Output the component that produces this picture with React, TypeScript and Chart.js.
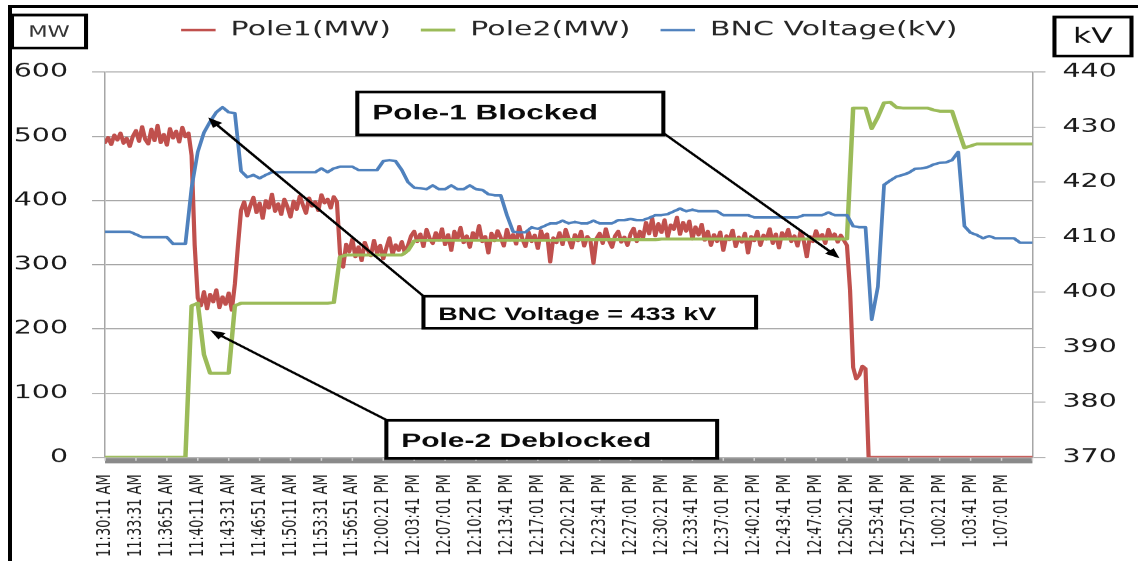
import React, { useEffect, useRef } from 'react';
import { Chart, registerables } from 'chart.js';

Chart.register(...registerables);

// ---------- data ----------
const tickTimes = [
  '11:30:11 AM', '11:33:31 AM', '11:36:51 AM', '11:40:11 AM', '11:43:31 AM', '11:46:51 AM',
  '11:50:11 AM', '11:53:31 AM', '11:56:51 AM', '12:00:21 PM', '12:03:41 PM', '12:07:01 PM',
  '12:10:21 PM', '12:13:41 PM', '12:17:01 PM', '12:20:21 PM', '12:23:41 PM', '12:27:01 PM',
  '12:30:21 PM', '12:33:41 PM', '12:37:01 PM', '12:40:21 PM', '12:43:41 PM', '12:47:01 PM',
  '12:50:21 PM', '12:53:41 PM', '12:57:01 PM', '1:00:21 PM', '1:03:41 PM', '1:07:01 PM',
];
const X_MAX = 30; // axis runs one interval past the last label
const POLE1_PER_TICK = 10; // Pole1 samples per label interval
const SLOW_PER_TICK = 5; // Pole2 / BNC samples per label interval

const pole1MW = [
  490, 498, 487, 502, 494, 505, 489, 497, 484, 500,
  509, 492, 515, 495, 488, 511, 493, 517, 490, 503,
  486, 512, 497, 508, 491, 514, 499, 505, 470, 330,
  248, 236, 258, 231, 254, 242, 261, 233, 250, 238,
  256, 229, 270, 330, 385, 398, 376, 392, 405, 381,
  396, 372, 400, 388, 410, 383, 395, 378, 402, 390,
  374, 399, 386, 407, 393, 380, 404, 391, 398, 384,
  409, 396, 402, 388, 406, 398, 318, 296, 332, 320,
  340, 312, 328, 306, 335, 322, 314, 338, 318, 330,
  309, 326, 342, 316, 331, 322, 336, 318, 330, 345,
  352, 336, 348, 328, 355, 341, 333, 350, 338, 356,
  331, 347, 322, 352, 340, 358, 334, 345, 327, 350,
  339, 361, 336, 344, 318, 349, 337, 353, 342, 329,
  355, 338, 347, 332, 360, 340, 328, 351, 336, 346,
  325, 353, 339, 348, 304, 342, 334, 350, 331, 355,
  340, 326, 347, 337, 352, 329, 344, 338, 302, 341,
  349, 333, 356, 338, 327, 345, 352, 335, 343, 330,
  348, 357, 336, 352, 341, 366, 348, 372, 345, 364,
  350, 370, 343, 362, 355, 374, 347, 366, 352, 368,
  340, 359, 346, 363, 338, 352, 330, 347, 336, 351,
  322, 345, 339, 354, 328, 343, 335, 349, 318, 344,
  337, 352, 330, 346, 340, 356, 333, 348, 326, 350,
  341, 355, 336, 345, 329, 352, 338, 312, 344, 336,
  353, 340, 347, 333, 355, 341, 348, 335, 346, 338,
  330, 260, 140, 122, 128, 142, 138, 0, 0, 0,
  0, 0, 0, 0, 0, 0, 0, 0, 0, 0,
  0, 0, 0, 0, 0, 0, 0, 0, 0, 0,
  0, 0, 0, 0, 0, 0, 0, 0, 0, 0,
  0, 0, 0, 0, 0, 0, 0, 0, 0, 0,
  0, 0, 0, 0, 0, 0, 0, 0, 0, 0,
  0,
];

const pole2MW = [
  0, 0, 0, 0, 0, 0, 0, 0, 0, 0,
  0, 0, 0, 0, 236, 240, 160, 131, 131, 131,
  131, 236, 240, 240, 240, 240, 240, 240, 240, 240,
  240, 240, 240, 240, 240, 240, 240, 241, 312, 315,
  315, 315, 315, 315, 315, 315, 315, 315, 315, 322,
  337, 338, 338, 338, 338, 338, 338, 338, 338, 338,
  338, 338, 338, 338, 338, 338, 338, 338, 338, 338,
  338, 338, 338, 338, 339, 339, 339, 339, 339, 339,
  339, 339, 339, 339, 339, 339, 339, 339, 339, 339,
  340, 340, 340, 340, 340, 340, 340, 340, 340, 340,
  340, 340, 340, 340, 340, 340, 340, 340, 340, 340,
  340, 340, 340, 340, 340, 340, 340, 340, 340, 340,
  340, 544, 544, 544, 512, 530, 552, 553, 545, 544,
  544, 544, 544, 544, 541, 539, 539, 539, 510, 482,
  485, 488, 488, 488, 488, 488, 488, 488, 488, 488,
  488,
];

const bncKV = [
  411, 411, 411, 411, 411, 410.5, 410, 410, 410, 410,
  410, 408.8, 408.8, 408.8, 419, 425.5, 429, 431, 432.7, 433.6,
  432.7, 432.5, 422, 420.9, 421.3, 420.7, 421.3, 421.8, 421.8, 421.8,
  421.8, 421.8, 421.8, 421.8, 421.8, 422.5, 421.8, 422.5, 422.8, 422.8,
  422.8, 422.2, 422.2, 422.2, 422.2, 423.8, 424, 423.8, 422.2, 420,
  419, 418.9, 418.7, 419.4, 418.7, 418.7, 419.4, 418.7, 418.7, 419.4,
  418.7, 418.6, 417.8, 417.6, 417.6, 414, 411, 410.9, 410.9, 411.8,
  411.5, 412, 412.5, 412.5, 413, 412.5, 412.8, 412.5, 412.5, 413,
  412.5, 412.5, 412.5, 413.1, 413.1, 413.3, 413.1, 413.1, 413.5, 414,
  414, 414.2, 414.7, 415.2, 414.7, 415, 414.7, 414.7, 414.7, 414.7,
  414, 414, 414, 414, 414, 413.6, 413.6, 413.6, 413.6, 413.6,
  413.6, 413.6, 413.6, 414, 414, 414, 414, 414.5, 414, 414,
  414, 412, 411.8, 411.8, 395, 401, 419.5, 420.3, 421, 421.3,
  421.7, 422.4, 422.5, 422.7, 423.2, 423.5, 423.6, 424, 425.5, 412,
  410.8, 410.4, 409.8, 410.2, 409.8, 409.8, 409.8, 409.8, 409, 409,
  409,
];

const mwTicks = { min: 0, max: 600, step: 100 };
const kvTicks = { min: 370, max: 440, step: 10 };
const seriesNames = ['Pole1(MW)', 'Pole2(MW)', 'BNC Voltage(kV)'];
const unitLabels = ['MW', 'kV'];

// annotations, in data coordinates (label-interval position, MW)
const annotationBoxes = [
  { text: 'Pole-1 Blocked', x0: 8.16, x1: 18.06, top: 569, bottom: 502, tx: 8.64, ty: 526.7, size: 21 },
  { text: 'BNC Voltage = 433 kV', x0: 10.3, x1: 21.06, top: 251, bottom: 201, tx: 10.78, ty: 213.5, size: 18 },
  { text: 'Pole-2 Deblocked', x0: 9.1, x1: 19.8, top: 57.7, bottom: -1.6, tx: 9.58, ty: 15.6, size: 20 },
];
const annotationArrows = [
  { from: [18.06, 505], to: [23.76, 310] },
  { from: [10.3, 251], to: [3.34, 529] },
  { from: [9.12, 57.7], to: [3.4, 198] },
];

// ---------- layout / style ----------
const PAGE_W = 1138;
const PAGE_H = 561;
const CANVAS_W = 759;
const K = PAGE_W / CANVAS_W; // horizontal stretch of the picture
const PLOT_LEFT = 105;
const PLOT_RIGHT = 1032;
const PLOT_BOTTOM = 457;
const TICK_LEN = 13 / K;

const RED = '#C0504D';
const GREEN = '#9BBB59';
const BLUE = '#4F81BD';
const GRID = '#a6a6a6';
const FONT = "'DejaVu Sans', Verdana, sans-serif";
const BOLD_FONT = "'Liberation Sans', Arial, sans-serif";

const toPoints = (values: number[], perTick: number) => values.map((v, i) => ({ x: i / perTick, y: v }));

const unitBoxes = [
  { text: unitLabels[0], left: 12, top: 15, right: 86, bottom: 48, size: 15, color: '#333' },
  { text: unitLabels[1], left: 1054, top: 17, right: 1131, bottom: 56, size: 21, color: '#111' },
];

function drawArrow(ctx: CanvasRenderingContext2D, x1: number, y1: number, x2: number, y2: number) {
  const ang = Math.atan2(y2 - y1, x2 - x1);
  const L = 10;
  const W = 4;
  const bx = x2 - Math.cos(ang) * L;
  const by = y2 - Math.sin(ang) * L;
  ctx.beginPath();
  ctx.moveTo(x1, y1);
  ctx.lineTo(bx + Math.cos(ang) * 2, by + Math.sin(ang) * 2);
  ctx.stroke();
  ctx.beginPath();
  ctx.moveTo(x2, y2);
  ctx.lineTo(bx + Math.sin(ang) * W, by - Math.cos(ang) * W);
  ctx.lineTo(bx - Math.sin(ang) * W, by + Math.cos(ang) * W);
  ctx.closePath();
  ctx.fill();
}

const decorPlugin = {
  id: 'decor',
  beforeDatasetsDraw(chart: any) {
    const { ctx, chartArea: a, scales } = chart;
    const x = scales.x;
    ctx.save();
    ctx.fillStyle = '#8a8a8a';
    ctx.fillRect(a.left, a.bottom + 1, a.right - a.left, 5);
    ctx.fillStyle = '#d4d4d4';
    for (let t = 0; t <= X_MAX; t++) {
      const px = x.getPixelForValue(t);
      ctx.fillRect(px - 0.5, a.bottom + 1, 1, 2.5);
    }
    ctx.restore();
  },
  afterDatasetsDraw(chart: any) {
    const { ctx, scales } = chart;
    const x = scales.x;
    const y = scales.y;
    ctx.save();
    ctx.strokeStyle = '#000';
    ctx.fillStyle = '#000';
    ctx.lineWidth = 2;
    for (const ar of annotationArrows) {
      drawArrow(
        ctx,
        x.getPixelForValue(ar.from[0]), y.getPixelForValue(ar.from[1]),
        x.getPixelForValue(ar.to[0]), y.getPixelForValue(ar.to[1])
      );
    }
    for (const b of annotationBoxes) {
      const l = x.getPixelForValue(b.x0);
      const r = x.getPixelForValue(b.x1);
      const t = y.getPixelForValue(b.top);
      const bt = y.getPixelForValue(b.bottom);
      ctx.fillStyle = '#fff';
      ctx.fillRect(l, t, r - l, bt - t);
      ctx.lineWidth = 2.7;
      ctx.strokeStyle = '#000';
      ctx.strokeRect(l, t, r - l, bt - t);
      ctx.fillStyle = '#0a0a0a';
      ctx.font = `bold ${b.size}px ${BOLD_FONT}`;
      ctx.textAlign = 'left';
      ctx.textBaseline = 'alphabetic';
      ctx.fillText(b.text, x.getPixelForValue(b.tx), y.getPixelForValue(b.ty));
    }
    for (const u of unitBoxes) {
      const l = u.left / K;
      const w = (u.right - u.left) / K;
      ctx.fillStyle = '#fff';
      ctx.fillRect(l, u.top, w, u.bottom - u.top);
      ctx.lineWidth = 2.7;
      ctx.strokeStyle = '#000';
      ctx.strokeRect(l, u.top, w, u.bottom - u.top);
      ctx.fillStyle = u.color;
      ctx.font = `${u.size}px ${FONT}`;
      ctx.textAlign = 'center';
      ctx.textBaseline = 'middle';
      ctx.fillText(u.text, l + w / 2, (u.top + u.bottom) / 2 + 1);
    }
    ctx.restore();
  },
};

export default function App() {
  const canvasRef = useRef<HTMLCanvasElement>(null);

  useEffect(() => {
    const chart = new Chart(canvasRef.current as HTMLCanvasElement, {
      type: 'line',
      data: {
        datasets: [
          { label: seriesNames[0], data: toPoints(pole1MW, POLE1_PER_TICK), yAxisID: 'y', borderColor: RED, backgroundColor: RED, borderWidth: 2.8, order: 3, pointStyle: 'line' },
          { label: seriesNames[1], data: toPoints(pole2MW, SLOW_PER_TICK), yAxisID: 'y', borderColor: GREEN, backgroundColor: GREEN, borderWidth: 3, order: 2, pointStyle: 'line' },
          { label: seriesNames[2], data: toPoints(bncKV, SLOW_PER_TICK), yAxisID: 'y1', borderColor: BLUE, backgroundColor: BLUE, borderWidth: 2.5, order: 1, pointStyle: 'line' },
        ],
      },
      options: {
        animation: false,
        responsive: true,
        maintainAspectRatio: false,
        devicePixelRatio: 1.5,
        events: [],
        parsing: true,
        layout: { padding: 0 },
        elements: {
          point: { radius: 0, hoverRadius: 0 },
          line: { tension: 0, borderJoinStyle: 'round', borderCapStyle: 'round' },
        },
        plugins: {
          legend: {
            display: true,
            position: 'top',
            align: 'center',
            labels: {
              usePointStyle: true,
              pointStyle: 'line',
              pointStyleWidth: 23,
              padding: 20,
              color: '#262626',
              font: { family: FONT, size: 20 },
              sort: (a: any, b: any) => a.datasetIndex - b.datasetIndex,
            },
          },
          title: {
            display: true,
            text: '',
            weight: 500,
            padding: { top: 5, bottom: 5 },
            font: { size: 10, lineHeight: 1.2 },
          },
          tooltip: { enabled: false },
        },
        scales: {
          x: {
            type: 'linear',
            min: 0,
            max: X_MAX,
            grid: { display: false },
            border: { display: false },
            ticks: {
              stepSize: 1,
              autoSkip: false,
              minRotation: 90,
              maxRotation: 90,
              padding: 9,
              color: '#1a1a1a',
              font: { family: FONT, size: 13 },
              callback: (v: any) => tickTimes[Math.round(Number(v))] ?? '',
            },
            afterFit: (s: any) => { s.height = PAGE_H - PLOT_BOTTOM; },
          },
          y: {
            position: 'left',
            min: mwTicks.min,
            max: mwTicks.max,
            ticks: { stepSize: mwTicks.step, padding: 16, color: '#1a1a1a', font: { family: FONT, size: 19 } },
            grid: { color: GRID, lineWidth: 1, tickLength: TICK_LEN, drawTicks: true },
            border: { display: true, color: GRID, width: 1 },
            afterFit: (s: any) => { s.width = PLOT_LEFT / K; },
          },
          y1: {
            position: 'right',
            min: kvTicks.min,
            max: kvTicks.max,
            ticks: { stepSize: kvTicks.step, padding: 11.3, color: '#1a1a1a', font: { family: FONT, size: 19 } },
            grid: { drawOnChartArea: false, color: GRID, lineWidth: 1, tickLength: TICK_LEN, drawTicks: true },
            border: { display: true, color: GRID, width: 1 },
            afterFit: (s: any) => { s.width = CANVAS_W - PLOT_RIGHT / K; },
          },
        },
      },
      plugins: [decorPlugin],
    } as any);
    return () => chart.destroy();
  }, []);

  return (
    <div style={{ position: 'fixed', left: 0, top: 0, width: PAGE_W, height: PAGE_H, background: '#fff', overflow: 'hidden' }}>
      <div style={{ position: 'absolute', left: 0, top: 0, width: CANVAS_W, height: PAGE_H, transform: `scaleX(${K})`, transformOrigin: '0 0' }}>
        <canvas ref={canvasRef} />
      </div>
      <div style={{ position: 'absolute', left: 8, top: 5, width: PAGE_W - 8, height: 3, background: '#000' }} />
      <div style={{ position: 'absolute', left: 8, top: 5, width: 4, height: PAGE_H - 5, background: '#000' }} />
    </div>
  );
}
